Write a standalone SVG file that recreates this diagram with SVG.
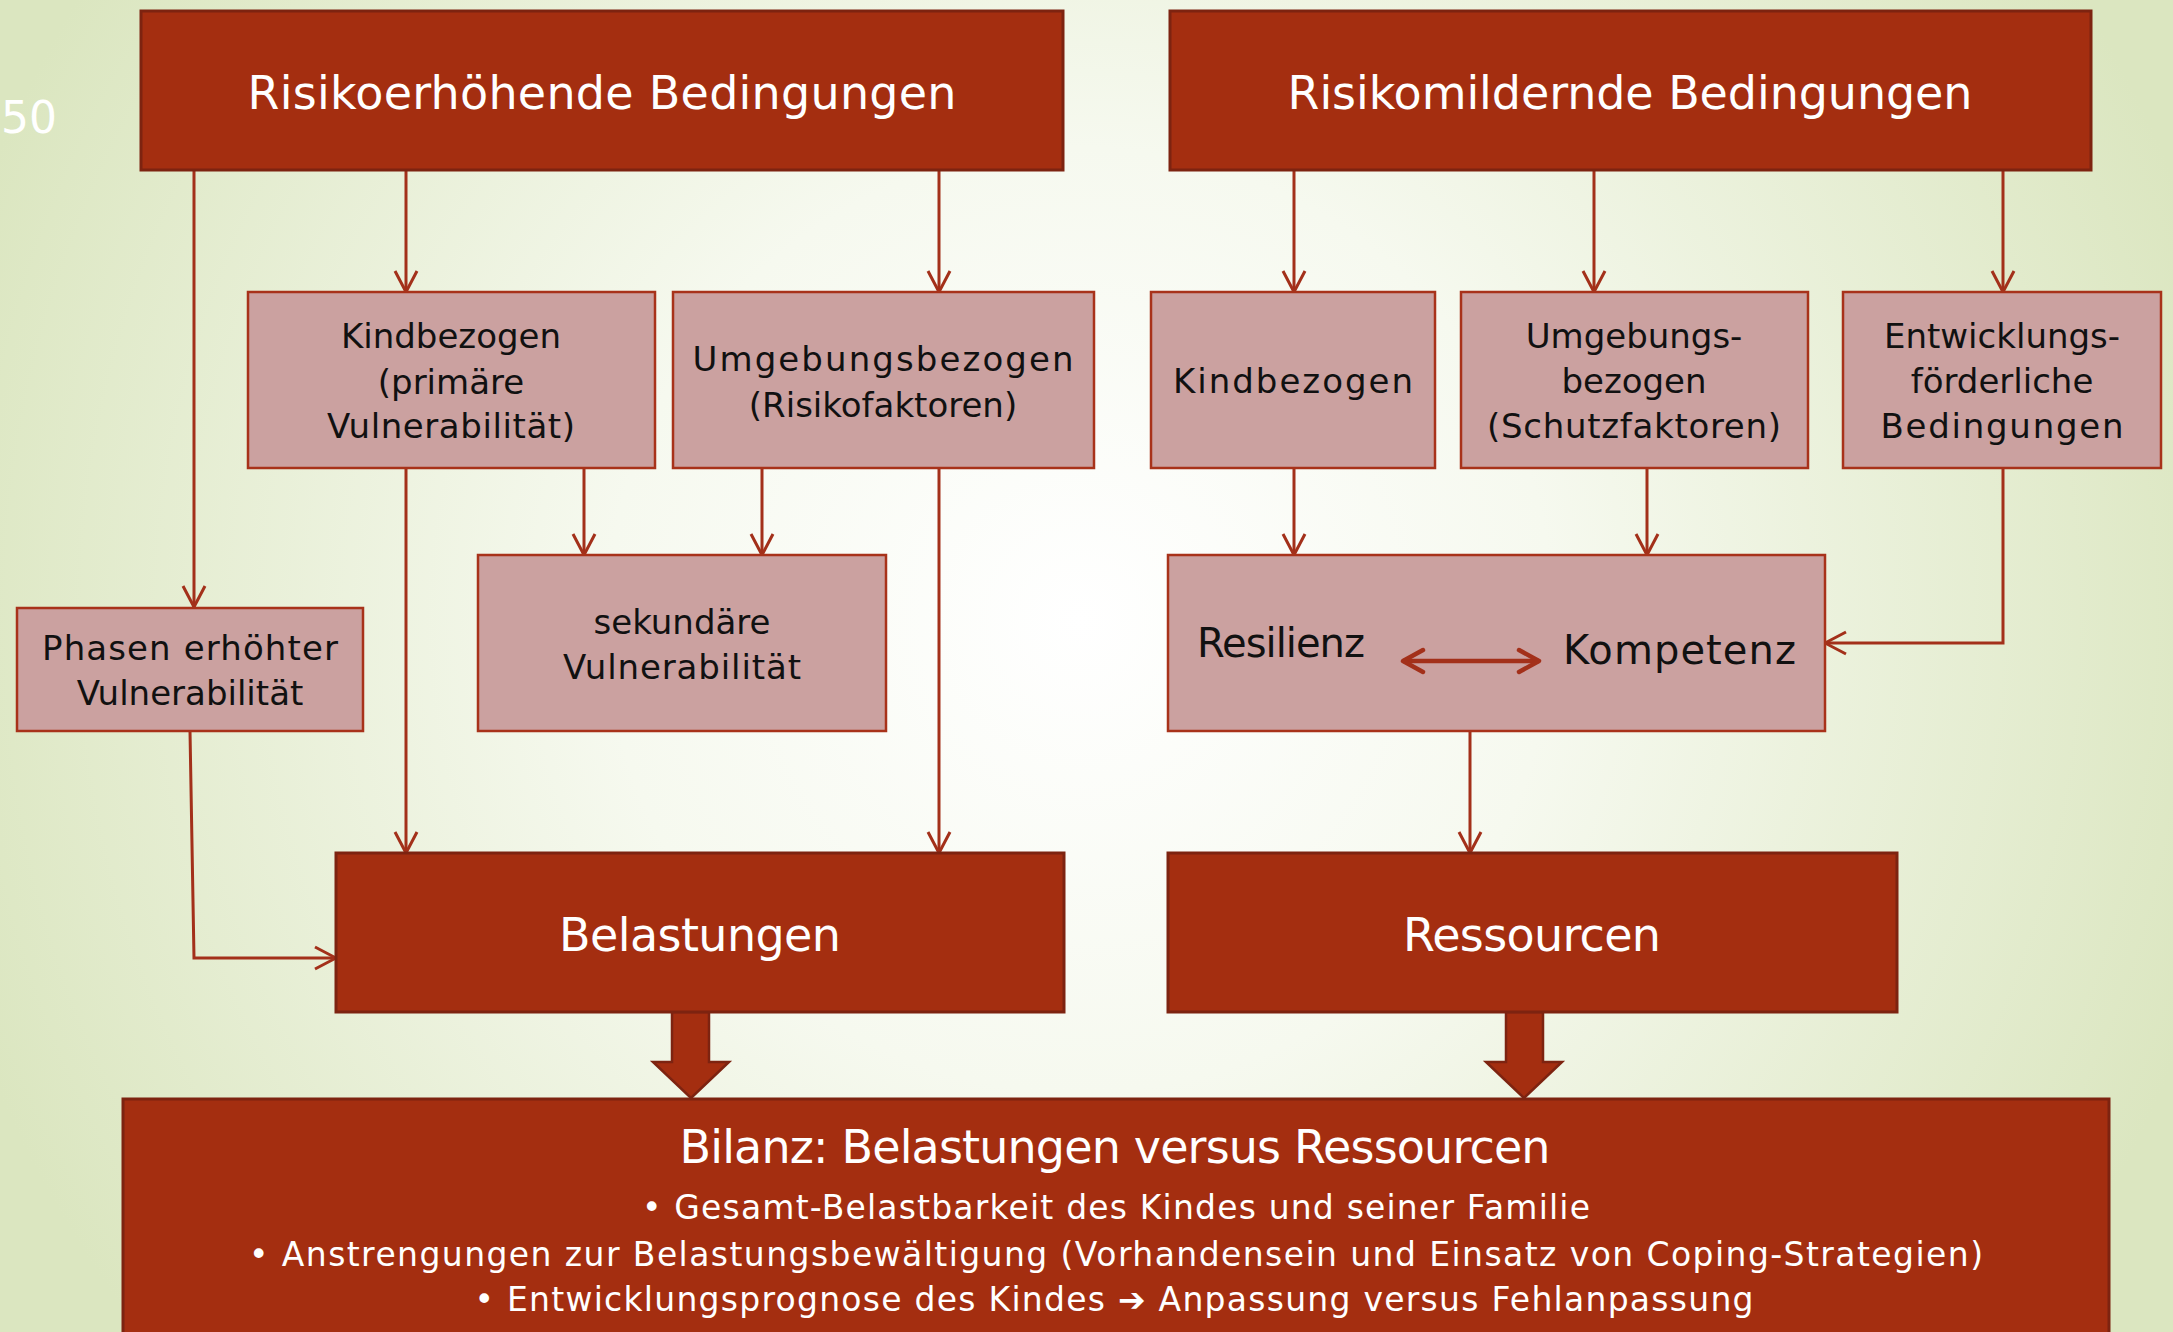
<svg xmlns="http://www.w3.org/2000/svg" width="2173" height="1332" viewBox="0 0 2173 1332">
<defs>
<radialGradient id="bg" gradientUnits="userSpaceOnUse" cx="1080" cy="620" r="1180">
<stop offset="0" stop-color="#ffffff"/>
<stop offset="0.4" stop-color="#f6f9ef"/>
<stop offset="1" stop-color="#dbe6c0"/>
</radialGradient>
<marker id="ah" markerUnits="userSpaceOnUse" markerWidth="26" markerHeight="26" viewBox="-2 -2 26 26" refX="21" refY="11" orient="auto">
<path d="M0,0 L21,11 L0,22" fill="none" stroke="#a3301a" stroke-width="3"/>
</marker>
<marker id="ah2" markerUnits="userSpaceOnUse" markerWidth="28" markerHeight="28" viewBox="-3 -3 28 28" refX="20" refY="11" orient="auto-start-reverse">
<path d="M0,0 L20,11 L0,22" fill="none" stroke="#a3301a" stroke-width="4.5" stroke-linecap="round" stroke-linejoin="round"/>
</marker>
</defs>
<style>
.dark{fill:#a42e10;stroke:#7d2310;stroke-width:3}
.pink{fill:#cba1a0;stroke:#a8321a;stroke-width:2.5}
.wt{fill:#ffffff;font-family:"DejaVu Sans","Liberation Sans",sans-serif;text-anchor:middle}
.bt{fill:#111111;font-family:"DejaVu Sans","Liberation Sans",sans-serif;text-anchor:middle;font-size:34px}
.lt{fill:#111111;font-family:"DejaVu Sans","Liberation Sans",sans-serif;font-size:40px}
.con{fill:none;stroke:#a3301a;stroke-width:3;marker-end:url(#ah)}
.blk{fill:#a42e10;stroke:#7d2310;stroke-width:2.5}
</style>
<rect x="0" y="0" width="2173" height="1332" fill="url(#bg)"/>
<text x="1" y="133" fill="#ffffff" font-family="DejaVu Sans, Liberation Sans, sans-serif" font-size="44">50</text>

<g id="connectors">
<path class="con" d="M194,170 V607"/>
<path class="con" d="M406,170 V292"/>
<path class="con" d="M939,170 V292"/>
<path class="con" d="M406,468 V853"/>
<path class="con" d="M584,468 V555"/>
<path class="con" d="M762,468 V555"/>
<path class="con" d="M939,468 V853"/>
<path class="con" d="M190,731 L194,958 H336"/>
<path class="con" d="M1294,170 V292"/>
<path class="con" d="M1594,170 V292"/>
<path class="con" d="M2003,170 V292"/>
<path class="con" d="M1294,468 V555"/>
<path class="con" d="M1647,468 V555"/>
<path class="con" d="M2003,468 V643 H1825"/>
<path class="con" d="M1470,731 V853"/>
<path class="blk" d="M672,1012 H709 V1062 H729 L691,1098 L653,1062 H672 Z"/>
<path class="blk" d="M1506,1012 H1543 V1062 H1562 L1524,1098 L1486,1062 H1506 Z"/>
</g>

<g id="risikoerhoehend">
<rect class="dark" x="141" y="11" width="922" height="159"/>
<text class="wt" x="602" y="109" font-size="46" textLength="709">Risikoerhöhende Bedingungen</text>
</g>
<g id="risikomildernd">
<rect class="dark" x="1170" y="11" width="921" height="159"/>
<text class="wt" x="1630" y="109" font-size="46" textLength="685">Risikomildernde Bedingungen</text>
</g>

<g id="kindbezogen-risiko">
<rect class="pink" x="248" y="292" width="407" height="176"/>
<text class="bt" x="451" y="348">Kindbezogen</text>
<text class="bt" x="451" y="394">(primäre</text>
<text class="bt" x="451" y="438" textLength="248">Vulnerabilität)</text>
</g>
<g id="umgebungsbezogen-risiko">
<rect class="pink" x="673" y="292" width="421" height="176"/>
<text class="bt" x="883" y="371" textLength="381">Umgebungsbezogen</text>
<text class="bt" x="883" y="417">(Risikofaktoren)</text>
</g>
<g id="kindbezogen-schutz">
<rect class="pink" x="1151" y="292" width="284" height="176"/>
<text class="bt" x="1293" y="393" textLength="240">Kindbezogen</text>
</g>
<g id="umgebungsbezogen-schutz">
<rect class="pink" x="1461" y="292" width="347" height="176"/>
<text class="bt" x="1634" y="348">Umgebungs-</text>
<text class="bt" x="1634" y="393">bezogen</text>
<text class="bt" x="1634" y="438" textLength="294">(Schutzfaktoren)</text>
</g>
<g id="entwicklungsfoerderlich">
<rect class="pink" x="1843" y="292" width="318" height="176"/>
<text class="bt" x="2002" y="348">Entwicklungs-</text>
<text class="bt" x="2002" y="393">förderliche</text>
<text class="bt" x="2002" y="438" textLength="243">Bedingungen</text>
</g>
<g id="phasen">
<rect class="pink" x="17" y="608" width="346" height="123"/>
<text class="bt" x="190" y="660" textLength="296">Phasen erhöhter</text>
<text class="bt" x="190" y="705">Vulnerabilität</text>
</g>
<g id="sekundaer">
<rect class="pink" x="478" y="555" width="408" height="176"/>
<text class="bt" x="682" y="634">sekundäre</text>
<text class="bt" x="682" y="679" textLength="238">Vulnerabilität</text>
</g>
<g id="resilienz-kompetenz">
<rect class="pink" x="1168" y="555" width="657" height="176"/>
<text class="lt" x="1197" y="657" textLength="168">Resilienz</text>
<text class="lt" x="1563" y="664" textLength="233">Kompetenz</text>
<path d="M1403,661 H1539" fill="none" stroke="#a3301a" stroke-width="4.5" marker-start="url(#ah2)" marker-end="url(#ah2)"/>
</g>
<g id="belastungen">
<rect class="dark" x="336" y="853" width="728" height="159"/>
<text class="wt" x="700" y="951" font-size="46" textLength="282">Belastungen</text>
</g>
<g id="ressourcen">
<rect class="dark" x="1168" y="853" width="729" height="159"/>
<text class="wt" x="1532" y="951" font-size="46" textLength="258">Ressourcen</text>
</g>
<g id="bilanz">
<rect class="dark" x="123" y="1099" width="1986" height="250"/>
<text class="wt" x="1115" y="1163" font-size="46" textLength="871">Bilanz: Belastungen versus Ressourcen</text>
<text class="wt" x="1116" y="1219" font-size="33" textLength="948">• Gesamt-Belastbarkeit des Kindes und seiner Familie</text>
<text class="wt" x="1116" y="1266" font-size="33" textLength="1734">• Anstrengungen zur Belastungsbewältigung (Vorhandensein und Einsatz von Coping-Strategien)</text>
<text class="wt" x="1114" y="1311" font-size="33" textLength="1279">• Entwicklungsprognose des Kindes ➔ Anpassung versus Fehlanpassung</text>
</g>
</svg>
